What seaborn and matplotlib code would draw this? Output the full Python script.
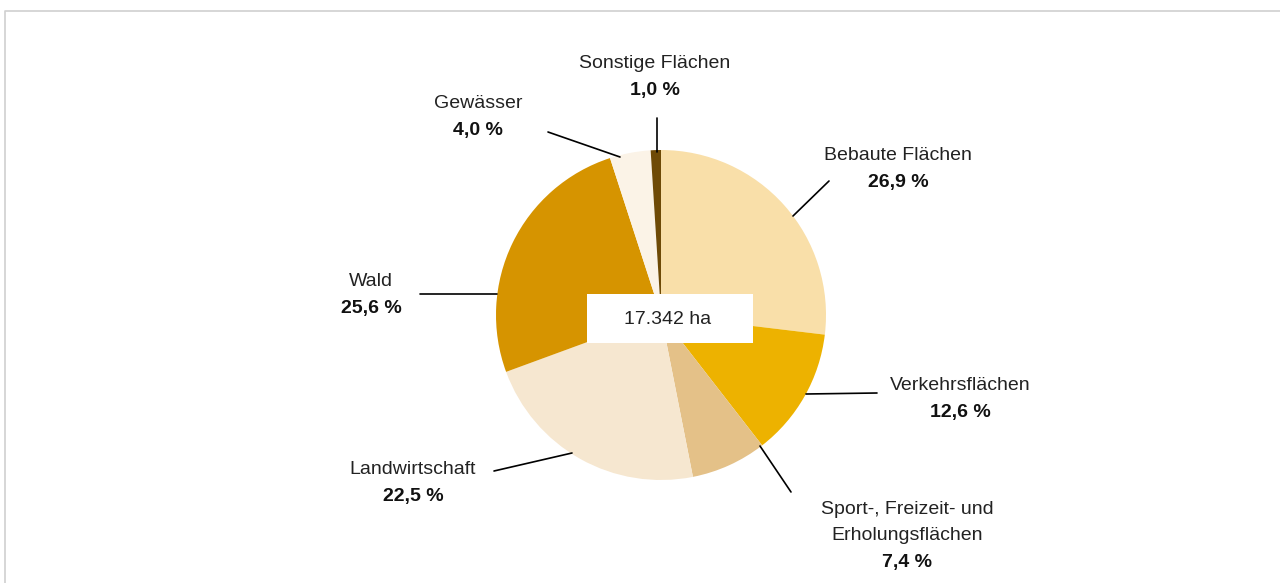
"""Flächennutzung: Anteile der Nutzungsarten an der Gesamtfläche (Kreisdiagramm)."""

import matplotlib.pyplot as plt
import seaborn as sns
from matplotlib.patches import Rectangle

W, H = 1280, 583

categories = [
    "Bebaute Flächen",
    "Verkehrsflächen",
    "Sport-, Freizeit- und\nErholungsflächen",
    "Landwirtschaft",
    "Wald",
    "Gewässer",
    "Sonstige Flächen",
]
shares = [26.9, 12.6, 7.4, 22.5, 25.6, 4.0, 1.0]
total_label = "17.342 ha"

colors = ["#F9DFA9", "#EDB200", "#E4C188", "#F6E7D0", "#D69400", "#FBF3E7", "#6E4A06"]

# layout in pixels (y measured from the top)
CENTER = (661, 315)
RADIUS = 165
label_pos = [(898, 156), (960, 386), (907, 509), (413, 469), (371, 282), (478, 103), (655, 64)]
leader = [
    ((793, 216), (829, 181)),
    ((806, 394), (877, 393)),
    ((760, 446), (791, 492)),
    ((572, 453), (494, 471)),
    ((497, 294), (420, 294)),
    ((620, 157), (548, 132)),
    ((657, 152), (657, 118)),
]
LINE_STEP = 27


def py(y):
    return H - y


sns.set_theme(style="white")
plt.rcParams["font.family"] = ["Liberation Sans", "DejaVu Sans"]

fig = plt.figure(figsize=(W / 100, H / 100), dpi=100)
ax = fig.add_axes([0, 0, 1, 1])

ax.pie(
    shares,
    colors=sns.color_palette(colors),
    startangle=90,
    counterclock=False,
    center=(CENTER[0], py(CENTER[1])),
    radius=RADIUS,
    wedgeprops={"linewidth": 0},
)
ax.set_xlim(0, W)
ax.set_ylim(0, H)
ax.set_aspect("equal")
ax.axis("off")

# light frame on top and left
ax.plot([5, 5, W + 5], [-5, py(11), py(11)], color="#D0D0D0", linewidth=1.2, clip_on=False)

for (p0, p1) in leader:
    ax.plot([p0[0], p1[0]], [py(p0[1]), py(p1[1])], color="black", linewidth=1.2)

for name, share, (x, y) in zip(categories, shares, label_pos):
    lines = name.split("\n")
    for i, line in enumerate(lines):
        ax.text(x, py(y + i * LINE_STEP), line, ha="center", va="center",
                fontsize=14, color="#222222")
    pct = f"{share:.1f}".replace(".", ",") + " %"
    ax.text(x, py(y + len(lines) * LINE_STEP), pct, ha="center", va="center",
            fontsize=14, fontweight="bold", color="#111111")

# white box with total area in the middle
ax.add_patch(Rectangle((587, py(343)), 166, 49, facecolor="white", edgecolor="none", zorder=5))
ax.text(668, py(319), total_label, ha="center", va="center", fontsize=14,
        color="#222222", zorder=6)

fig.savefig("out.png", dpi=100)
